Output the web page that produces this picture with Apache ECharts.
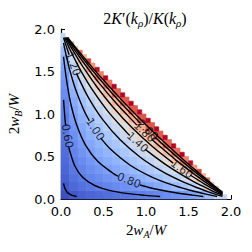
<!DOCTYPE html>
<html><head><meta charset="utf-8">
<script src="https://cdn.jsdelivr.net/npm/echarts@6/dist/echarts.min.js"></script>
<style>html,body{margin:0;padding:0;background:#fff}#c{width:252px;height:252px}</style>
</head><body><div id="c"></div>
<script>
// cell centres (2w/W) of the coarse colour grid
const cellCenters = [0.05,0.15,0.25,0.35,0.45,0.55,0.65,0.75,0.85,0.95,1.05,1.15,1.25,1.35,1.45,1.55,1.65,1.75,1.85];
// 2K'/K values, one row per y centre (row j has 19-j cells)
const zRows = [
 [0.361,0.416,0.449,0.476,0.500,0.522,0.544,0.565,0.587,0.610,0.635,0.662,0.692,0.727,0.770,0.825,0.902,1.017,1.252],
 [0.416,0.490,0.538,0.577,0.612,0.645,0.679,0.713,0.748,0.786,0.829,0.877,0.931,0.996,1.078,1.191,1.362,1.692],
 [0.449,0.538,0.595,0.643,0.688,0.730,0.773,0.820,0.867,0.920,0.975,1.041,1.120,1.219,1.353,1.550,1.920],
 [0.476,0.577,0.643,0.700,0.753,0.805,0.858,0.916,0.973,1.039,1.114,1.203,1.313,1.460,1.675,2.067],
 [0.500,0.612,0.688,0.753,0.816,0.878,0.940,1.007,1.080,1.162,1.260,1.379,1.536,1.762,2.169],
 [0.522,0.645,0.730,0.805,0.878,0.948,1.023,1.103,1.193,1.296,1.424,1.589,1.825,2.241],
 [0.544,0.679,0.773,0.858,0.940,1.023,1.110,1.207,1.317,1.452,1.624,1.866,2.289],
 [0.565,0.713,0.820,0.916,1.007,1.103,1.207,1.324,1.465,1.643,1.895,2.328],
 [0.587,0.748,0.867,0.973,1.080,1.193,1.317,1.465,1.650,1.908,2.349],
 [0.610,0.786,0.920,1.039,1.162,1.296,1.452,1.643,1.908,2.355],
 [0.635,0.829,0.975,1.114,1.260,1.424,1.624,1.895,2.349],
 [0.662,0.877,1.041,1.203,1.379,1.589,1.866,2.328],
 [0.692,0.931,1.120,1.313,1.536,1.825,2.289],
 [0.727,0.996,1.219,1.460,1.762,2.241],
 [0.770,1.078,1.353,1.675,2.169],
 [0.825,1.191,1.550,2.067],
 [0.902,1.362,1.920],
 [1.017,1.692],
 [1.252]
];
// finer cells along the w_A + w_B = W edge
const edgeX = [0.025,0.125,0.225,0.325,0.425,0.525,0.625,0.725,0.825,0.925,1.025,1.125,1.225,1.325,1.425,1.525,1.625,1.725,1.825,1.925];
const edgeY = [1.925,1.825,1.725,1.625,1.525,1.425,1.325,1.225,1.125,1.025,0.925,0.825,0.725,0.625,0.525,0.425,0.325,0.225,0.125,0.025];
const edgeZ = [1.265,1.970,2.264,2.444,2.571,2.658,2.714,2.750,2.803,2.835,2.835,2.803,2.750,2.714,2.658,2.571,2.444,2.264,1.970,1.265];

// contour lines (segments, broken where the inline labels sit)
const c040 = [[[0.03,0.185],[0.037,0.154],[0.047,0.122],[0.076,0.076],[0.122,0.047],[0.154,0.037],[0.185,0.03]]];
const c060 = [[[0.03,1.166],[0.043,0.988],[0.054,0.87]],
 [[0.0925,0.61],[0.102,0.568],[0.163,0.388],[0.255,0.255],[0.388,0.163],[0.568,0.102],[0.791,0.063],[0.988,0.043],[1.166,0.03]]];
const c080 = [[[0.03,1.674],[0.045,1.546],[0.073,1.348],[0.117,1.112],[0.187,0.864],[0.290,0.631],[0.437,0.437],[0.631,0.290],[0.67,0.269]],
 [[0.93,0.165],[1.0,0.145],[1.112,0.117],[1.348,0.073],[1.546,0.045],[1.674,0.03]]];
const c100 = [[[0.03,1.836],[0.040,1.785],[0.066,1.668],[0.106,1.506],[0.169,1.298],[0.264,1.057],[0.334,0.919]],
 [[0.466,0.719],[0.584,0.584],[0.810,0.400],[1.057,0.264],[1.298,0.169],[1.506,0.106],[1.668,0.066],[1.785,0.040],[1.836,0.03]]];
const c120 = [[[0.03,1.899],[0.052,1.829],[0.084,1.733],[0.097,1.696]],
 [[0.183,1.478],[0.213,1.410],[0.328,1.184],[0.489,0.936],[0.696,0.696],[0.936,0.489],[1.184,0.328],[1.410,0.213],[1.595,0.135],[1.733,0.084],[1.829,0.052],[1.899,0.03]]];
const c140 = [[[0.042,1.9],[0.062,1.855],[0.099,1.772],[0.159,1.650],[0.249,1.481],[0.380,1.268],[0.557,1.025],[0.778,0.778],[0.809,0.748]],
 [[0.991,0.585],[1.025,0.557],[1.268,0.380],[1.481,0.249],[1.650,0.159],[1.772,0.099],[1.855,0.062],[1.9,0.042]]];
const c160 = [[[0.053,1.9],[0.069,1.871],[0.112,1.796],[0.178,1.684],[0.277,1.527],[0.419,1.324],[0.608,1.086],[0.837,0.837],[1.086,0.608],[1.32,0.422]],
 [[1.52,0.282],[1.684,0.178],[1.796,0.112],[1.871,0.069],[1.9,0.053]]];
const c180 = [[[0.063,1.9],[0.075,1.881],[0.121,1.811],[0.193,1.707],[0.299,1.559],[0.449,1.363],[0.647,1.130],[0.881,0.881],[0.893,0.870]],
 [[1.067,0.703],[1.130,0.647],[1.363,0.449],[1.559,0.299],[1.707,0.193],[1.811,0.121],[1.881,0.075],[1.9,0.063]]];
const c200 = [[[0.072,1.9],[0.080,1.888],[0.129,1.822],[0.204,1.723],[0.316,1.580],[0.472,1.391],[0.675,1.162],[0.913,0.913],[0.933,0.894]],
 [[1.107,0.726],[1.162,0.675],[1.391,0.472],[1.580,0.316],[1.723,0.204],[1.822,0.129],[1.888,0.080],[1.9,0.072]]];
const c220 = [[[0.078,1.9],[0.135,1.829],[0.213,1.734],[0.328,1.596],[0.489,1.411],[0.696,1.184],[0.936,0.936],[1.184,0.696],[1.411,0.489],[1.596,0.328],[1.734,0.213],[1.829,0.135],[1.9,0.078]]];
const contours = [c040,c060,c080,c100,c120,c140,c160,c180,c200,c220];

// inline contour labels
const labelText  = ['0.60','0.80','1.00','1.20','1.40','1.60','1.80','2.00'];
const labelX     = [0.073,0.80,0.40,0.14,0.90,1.42,0.98,1.02];
const labelY     = [0.74,0.217,0.819,1.587,0.666,0.352,0.786,0.81];
const labelAngle = [-80,-22,-57,-68,-42,-35,-44,-44];

// ---------- build ----------
const CELL_HALF = 0.05, EDGE_HALF = 0.025;
const gridData = [];
zRows.forEach((row, j) => row.forEach((v, i) => gridData.push([cellCenters[i], cellCenters[j], v, CELL_HALF])));
const edgeData = edgeX.map((x, k) => [x, edgeY[k], edgeZ[k], EDGE_HALF]);

const coolwarm = ['#3b4cc0','#4d68d7','#6282ea','#779af7','#8db0fe','#a3c2ff','#b8d0f9','#ccd9ee','#dddddd',
  '#ecd3c5','#f4c4ad','#f7b194','#f49a7b','#ec7f64','#de604d','#cb3e38','#b40426'];

function renderCell(params, api) {
  const x = api.value(0), y = api.value(1), h = api.value(3);
  const p0 = api.coord([x - h, y + h]);
  const p1 = api.coord([x + h, y - h]);
  const c = api.visual('color');
  return {type:'rect', shape:{x:p0[0], y:p0[1], width:p1[0]-p0[0], height:p1[1]-p0[1]},
    style:{fill:c, stroke:c, lineWidth:0.6}};
}

const serif = 'Liberation Serif';
function mathRich(size, sub) {
  return {
    n:{fontFamily:serif, fontSize:size, color:'#000', lineHeight:size+4, verticalAlign:'middle'},
    i:{fontFamily:serif, fontStyle:'italic', fontSize:size, color:'#000', lineHeight:size+4, verticalAlign:'middle'},
    s:{fontFamily:serif, fontStyle:'italic', fontSize:sub, color:'#000', lineHeight:sub, verticalAlign:'bottom'}
  };
}

const series = [
  {type:'custom', renderItem:renderCell, data:gridData, dimensions:['x','y','z','h'], encode:{x:0,y:1}, z:1, silent:true},
  {type:'custom', renderItem:renderCell, data:edgeData, dimensions:['x','y','z','h'], encode:{x:0,y:1}, z:1, silent:true}
];
contours.forEach(level => level.forEach(seg => series.push({
  type:'line', data:seg, symbol:'none', smooth:0.3, z:3, silent:true,
  lineStyle:{color:'#000', width:1.4}
})));
series.push({
  type:'scatter', symbolSize:0, z:4, silent:true,
  data: labelText.map((t, k) => ({value:[labelX[k], labelY[k]],
    label:{show:true, formatter:t, rotate:labelAngle[k], position:'inside', align:'center', verticalAlign:'middle',
      color:'#000', fontSize:11, fontFamily:'DejaVu Sans'}}))
});

const axisCommon = {
  type:'value', min:0, max:2, interval:0.5,
  axisLine:{show:true, onZero:false, lineStyle:{color:'#000', width:1.2}},
  axisTick:{show:true, inside:true, length:4, lineStyle:{color:'#000', width:1}},
  axisLabel:{formatter:v => v.toFixed(1), color:'#000', fontSize:13, fontFamily:'DejaVu Sans'},
  splitLine:{show:false}, nameLocation:'middle'
};

const chart = echarts.init(document.getElementById('c'), null, {renderer:'svg', width:252, height:252});
chart.setOption({
  animation:false,
  backgroundColor:'#fff',
  grid:{left:61, top:29, width:170, height:170, containLabel:false, outerBoundsMode:'none'},
  xAxis:Object.assign({}, axisCommon, {
    axisLabel:Object.assign({}, axisCommon.axisLabel, {margin:6}),
    name:'{n|2}{i|w}{s|A}{n|/}{i|W}', nameGap:21, nameTextStyle:{rich:mathRich(15,10)}
  }),
  yAxis:Object.assign({}, axisCommon, {
    axisLabel:Object.assign({}, axisCommon.axisLabel, {margin:6}),
    name:'{n|2}{i|w}{s|B}{n|/}{i|W}', nameGap:37, nameTextStyle:{rich:mathRich(15,10)}
  }),
  visualMap:{type:'continuous', show:false, min:0.35, max:2.6, dimension:2, seriesIndex:[0,1],
    inRange:{color:coolwarm}, outOfRange:{color:['#b40426']}},
  graphic:[{type:'text', x:145, y:18, silent:true,
    style:{text:'{n|2}{i|K}{n|′(}{i|k}{s|ρ}{n|)/}{i|K}{n|(}{i|k}{s|ρ}{n|)}', rich:mathRich(16,11),
      align:'center', verticalAlign:'middle'}}],
  series:series
});
</script></body></html>
